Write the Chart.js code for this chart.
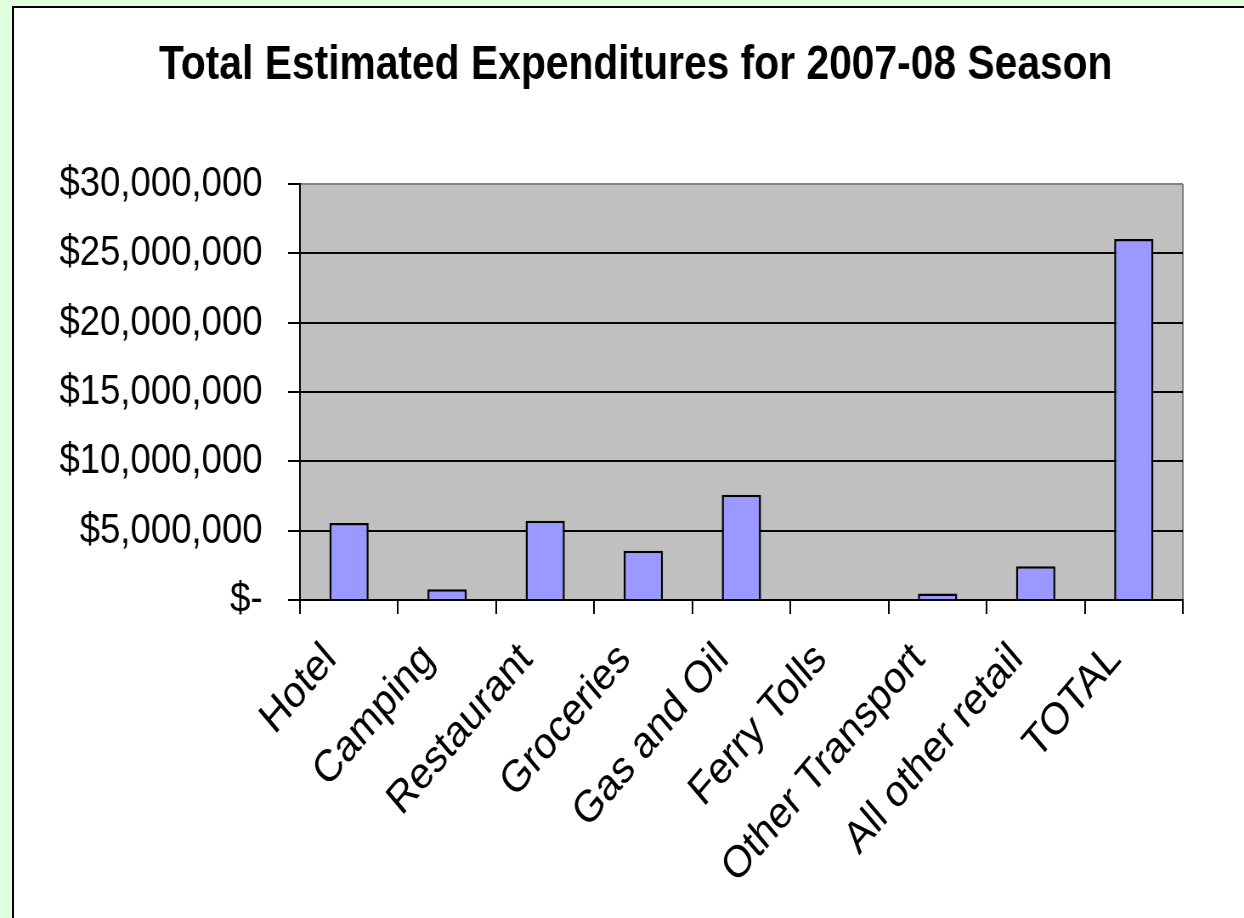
<!DOCTYPE html>
<html>
<head>
<meta charset="utf-8">
<script src="https://cdn.jsdelivr.net/npm/chart.js@4.4.1/dist/chart.umd.min.js"></script>
<style>
  html, body { margin: 0; padding: 0; width: 1244px; height: 918px; overflow: hidden; background: #dfffdf; }
  #panel { position: absolute; left: 12px; top: 6px; width: 1400px; height: 1100px; background: #ffffff; border: 2px solid #000000; }
  #wrap { position: absolute; left: 0; top: 0; width: 1464px; height: 918px; transform: scaleX(0.84973); transform-origin: 0 0; }
</style>
</head>
<body>
<div id="panel"></div>
<div id="wrap"><canvas id="c" width="1464" height="918" style="width:1464px;height:918px;display:block"></canvas></div>
<script>
// ---- data ----
const chartTitle = 'Total Estimated Expenditures for 2007-08 Season';
const categories = ['Hotel', 'Camping', 'Restaurant', 'Groceries', 'Gas and Oil', 'Ferry Tolls', 'Other Transport', 'All other retail', 'TOTAL'];
const expenditures = [5550000, 770000, 5710000, 3560000, 7590000, 0, 460000, 2430000, 26030000];
const yTickValues = [0, 5000000, 10000000, 15000000, 20000000, 25000000, 30000000];
const yTickLabels = ['$-', '$5,000,000', '$10,000,000', '$15,000,000', '$20,000,000', '$25,000,000', '$30,000,000'];

const FONT = '"Liberation Sans", Arial, Helvetica, sans-serif';

const plotBg = {
  id: 'plotBg',
  beforeDraw(chart) {
    const { ctx, chartArea } = chart;
    const { left, top, right, bottom } = chartArea;
    ctx.save();
    ctx.fillStyle = '#c0c0c0';
    ctx.fillRect(left, top, right - left, bottom - top);
    ctx.strokeStyle = '#808080';
    ctx.lineWidth = 2;
    ctx.beginPath();
    ctx.moveTo(right, top);
    ctx.lineTo(right, bottom);
    ctx.stroke();
    ctx.restore();
  }
};

const titleText = {
  id: 'titleText',
  afterDraw(chart) {
    const ctx = chart.ctx;
    ctx.save();
    ctx.fillStyle = '#000000';
    ctx.font = 'bold 48px ' + FONT;
    ctx.textAlign = 'center';
    ctx.textBaseline = 'middle';
    ctx.fillText(chartTitle, chart.width * 0.511, 66);
    ctx.restore();
  }
};

new Chart(document.getElementById('c'), {
  type: 'bar',
  data: {
    labels: categories,
    datasets: [{
      data: expenditures,
      backgroundColor: '#9999ff',
      borderColor: '#000000',
      borderWidth: 2.5,
      categoryPercentage: 1.0,
      barPercentage: 0.4
    }]
  },
  options: {
    responsive: false,
    devicePixelRatio: 1,
    animation: false,
    layout: { padding: { left: 0, right: 72, top: 184, bottom: 0 } },
    plugins: {
      legend: { display: false },
      tooltip: { enabled: false },
      title: { display: false }
    },
    scales: {
      x: {
        grid: { display: true, drawOnChartArea: false, drawTicks: true, tickLength: 14, color: '#000000', lineWidth: 2, offset: true },
        border: { display: true, color: '#000000', width: 2 },
        ticks: {
          autoSkip: false, maxRotation: 45, minRotation: 45,
          color: '#000000', font: { family: FONT, size: 45 },
          padding: 19, labelOffset: -22
        },
        afterFit(scale) { scale.height = 318; }
      },
      y: {
        min: 0, max: 30000000,
        afterBuildTicks(scale) { scale.ticks = yTickValues.map(v => ({ value: v })); },
        ticks: {
          color: '#000000', font: { family: FONT, size: 43 }, padding: 30,
          callback(value) { const i = yTickValues.indexOf(value); return i >= 0 ? yTickLabels[i] : ''; }
        },
        grid: {
          color(ctx) { return ctx.tick && ctx.tick.value === 30000000 ? '#808080' : '#000000'; },
          tickColor: '#000000', lineWidth: 2, tickLength: 14
        },
        border: { display: true, color: '#000000', width: 2 },
        afterFit(scale) { scale.width = 353; }
      }
    }
  },
  plugins: [plotBg, titleText]
});
</script>
</body>
</html>
